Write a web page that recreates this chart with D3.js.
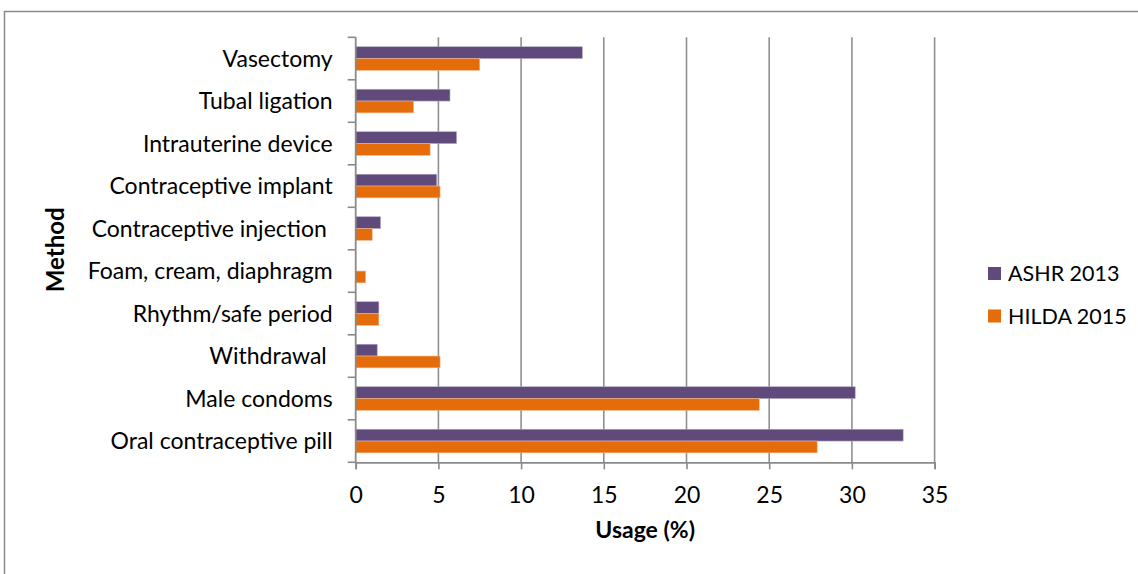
<!DOCTYPE html>
<html>
<head>
<meta charset="utf-8">
<script src="https://cdn.jsdelivr.net/npm/d3@7/dist/d3.min.js"></script>
<style>
  html, body { margin: 0; padding: 0; background: #fff; }
  svg text { font-family: "Lato", "Open Sans", sans-serif; fill: #000; }
</style>
</head>
<body>
<svg id="chart" width="1138" height="574"></svg>
<script>
// Contraceptive method usage, two surveys
const methods = [
  "Vasectomy",
  "Tubal ligation",
  "Intrauterine device",
  "Contraceptive implant",
  "Contraceptive injection ",
  "Foam, cream, diaphragm",
  "Rhythm/safe period",
  "Withdrawal ",
  "Male condoms",
  "Oral contraceptive pill"
];
const ashr2013 = [13.7, 5.7, 6.1, 4.9, 1.5, 0, 1.4, 1.3, 30.2, 33.1];
const hilda2015 = [7.5, 3.5, 4.5, 5.1, 1.0, 0.6, 1.4, 5.1, 24.4, 27.9];
const seriesNames = ["ASHR 2013", "HILDA 2015"];
const seriesColors = ["#604A7B", "#E46C0A"];
const xTicks = [0, 5, 10, 15, 20, 25, 30, 35];

const svg = d3.select("#chart");

// chart frame
svg.append("rect")
  .attr("x", 4.5).attr("y", 11.5)
  .attr("width", 1200).attr("height", 700)
  .attr("fill", "none")
  .attr("stroke", "#8a8a8a")
  .attr("stroke-width", 1.5);

const plot = { left: 355.7, right: 934.6, top: 37.3, bottom: 462.3 };

const x = d3.scaleLinear().domain([0, 35]).range([plot.left, plot.right]);
const y = d3.scaleBand().domain(methods).range([plot.top, plot.bottom]);
const inner = d3.scaleBand().domain(seriesNames)
  .range([0, y.bandwidth()]).paddingInner(0).paddingOuter(0.8);

// vertical gridlines
svg.append("g")
  .selectAll("line")
  .data(xTicks.slice(1))
  .join("line")
  .attr("x1", d => x(d)).attr("x2", d => x(d))
  .attr("y1", plot.top).attr("y2", plot.bottom)
  .attr("stroke", "#8f8f8f")
  .attr("stroke-width", 1.6);

// bars
const rows = methods.map((m, i) => ({ m, vals: [ashr2013[i], hilda2015[i]] }));
const groups = svg.append("g")
  .selectAll("g")
  .data(rows)
  .join("g")
  .attr("transform", d => `translate(0,${y(d.m)})`);

groups.selectAll("rect")
  .data(d => d.vals.map((v, j) => ({ v, s: seriesNames[j], c: seriesColors[j] })))
  .join("rect")
  .attr("x", x(0))
  .attr("y", d => inner(d.s))
  .attr("width", d => x(d.v) - x(0))
  .attr("height", inner.bandwidth())
  .attr("fill", d => d.c)
  .attr("stroke", d => d.v > 0 ? (d.s === "ASHR 2013" ? "#b3a6c4" : "#f3b58a") : "none")
  .attr("stroke-width", 0.6);

// y axis
const yAxis = svg.append("g")
  .attr("transform", `translate(${plot.left},0)`)
  .call(d3.axisLeft(y).tickSize(0).tickPadding(23).tickFormat(d => d));
yAxis.select(".domain").remove();
yAxis.selectAll("text")
  .style("font-size", "23px")
  .style("white-space", "pre")
  .attr("dy", "0.35em");

// y axis line and boundary ticks
const yEdges = methods.map(m => y(m)).concat([plot.bottom]);
svg.append("g")
  .selectAll("line")
  .data(yEdges)
  .join("line")
  .attr("x1", plot.left - 8).attr("x2", plot.left)
  .attr("y1", d => d).attr("y2", d => d)
  .attr("stroke", "#8a8a8a").attr("stroke-width", 1.6);
svg.append("line")
  .attr("x1", plot.left).attr("x2", plot.left)
  .attr("y1", plot.top).attr("y2", plot.bottom)
  .attr("stroke", "#8a8a8a").attr("stroke-width", 1.8);

// x axis
const xAxis = svg.append("g")
  .attr("transform", `translate(0,${plot.bottom})`)
  .call(d3.axisBottom(x).tickValues(xTicks).tickSize(7).tickPadding(17).tickFormat(d3.format("d")));
xAxis.select(".domain")
  .attr("stroke", "#8a8a8a").attr("stroke-width", 1.8);
xAxis.selectAll(".tick line")
  .attr("stroke", "#8a8a8a").attr("stroke-width", 1.6);
xAxis.selectAll("text")
  .style("font-size", "23px");

// axis titles
svg.append("text")
  .attr("x", (plot.left + plot.right) / 2)
  .attr("y", 538)
  .attr("text-anchor", "middle")
  .style("font-size", "23px")
  .style("font-weight", "bold")
  .text("Usage (%)");

svg.append("text")
  .attr("transform", `translate(64,${(plot.top + plot.bottom) / 2}) rotate(-90)`)
  .attr("text-anchor", "middle")
  .style("font-size", "24px")
  .style("font-weight", "bold")
  .text("Method");

// legend
const legend = svg.append("g")
  .selectAll("g")
  .data(seriesNames)
  .join("g")
  .attr("transform", (d, i) => `translate(988,${267 + i * 42.5})`);
legend.append("rect")
  .attr("width", 13).attr("height", 13)
  .attr("fill", (d, i) => seriesColors[i]);
legend.append("text")
  .attr("x", 20).attr("y", 6.5).attr("dy", "0.35em")
  .style("font-size", "21.5px")
  .text(d => d);
</script>
</body>
</html>
